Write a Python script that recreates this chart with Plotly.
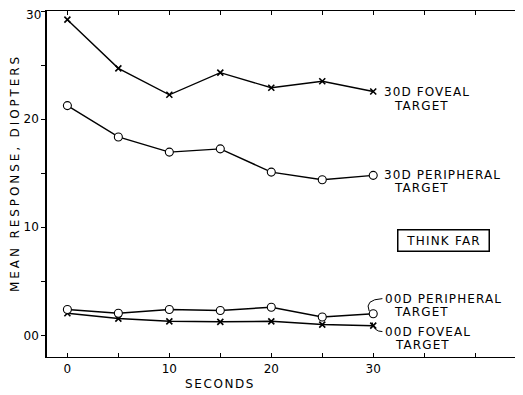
import plotly.graph_objects as go

# ---- data ----
seconds = [0, 5, 10, 15, 20, 25, 30]
foveal_30d = [29.2, 24.7, 22.25, 24.3, 22.9, 23.5, 22.55]
peripheral_30d = [21.25, 18.35, 16.95, 17.25, 15.1, 14.4, 14.8]
peripheral_00d = [2.4, 2.05, 2.4, 2.3, 2.6, 1.7, 2.0]
foveal_00d = [2.05, 1.55, 1.3, 1.25, 1.3, 1.0, 0.9]

x_tickvals = [0, 5, 10, 15, 20, 25, 30, 35, 40]
x_ticktext = ["0", "", "10", "", "20", "", "30", "", ""]
y_tickvals = [0, 5, 10, 15, 20, 25, 30]
y_ticktext = ["00", "", "10", "", "20", "", ""]
y_top_label = "30"

FONT = "DejaVu Sans"


def spaced(t, ls):
    return f'<span style="letter-spacing:{ls}px">{t}</span>'


fig = go.Figure()

x_marker = dict(symbol="x-thin", size=6, line=dict(color="black", width=1.6), color="black")
o_marker = dict(symbol="circle", size=8, color="white", line=dict(color="black", width=1.1))

fig.add_trace(go.Scatter(x=seconds, y=foveal_30d, mode="lines+markers",
                         line=dict(color="black", width=1.4), marker=x_marker))
fig.add_trace(go.Scatter(x=seconds, y=peripheral_30d, mode="lines+markers",
                         line=dict(color="black", width=1.4), marker=o_marker))
fig.add_trace(go.Scatter(x=seconds, y=foveal_00d, mode="lines+markers",
                         line=dict(color="black", width=1.5), marker=x_marker))
fig.add_trace(go.Scatter(x=seconds, y=peripheral_00d, mode="lines+markers",
                         line=dict(color="black", width=1.5), marker=o_marker))

ann = []


def label(y, l1, dy1, dy2, dx1=9, dx2=19):
    ann.append(dict(x=seconds[-1], y=y, xref="x", yref="y", text=spaced(l1, 1.1),
                    showarrow=False, xanchor="left", yanchor="middle",
                    xshift=dx1, yshift=dy1, font=dict(family=FONT, size=12, color="black")))
    ann.append(dict(x=seconds[-1], y=y, xref="x", yref="y", text=spaced("TARGET", 1.1),
                    showarrow=False, xanchor="left", yanchor="middle",
                    xshift=dx2, yshift=dy2, font=dict(family=FONT, size=12, color="black")))


label(foveal_30d[-1], "30D FOVEAL", 0, -14)
label(peripheral_30d[-1], "30D PERIPHERAL", 0, -13)
label(peripheral_00d[-1], "00D PERIPHERAL", 15, 2, dx1=10, dx2=19)
label(foveal_00d[-1], "00D FOVEAL", -6, -19, dx1=10, dx2=20)

ann.append(dict(x=36.9, y=8.8, xref="x", yref="y", text=spaced("THINK FAR", 1.2),
                showarrow=False, width=84, height=14, borderpad=3,
                bordercolor="black", borderwidth=1.5, bgcolor="white",
                font=dict(family=FONT, size=12, color="black")))

ann.append(dict(x=-0.068, y=0.532, xref="paper", yref="paper",
                text=spaced("MEAN RESPONSE, DIOPTERS", 2.9), textangle=-90,
                showarrow=False, xanchor="center", yanchor="middle",
                font=dict(family=FONT, size=12, color="black")))
ann.append(dict(x=0.367, y=-0.078, xref="paper", yref="paper",
                text=spaced("SECONDS", 1.6),
                showarrow=False, xanchor="center", yanchor="middle",
                font=dict(family=FONT, size=12, color="black")))
# top y tick label (the axis would hide it at the very edge of the figure)
ann.append(dict(x=0, y=y_tickvals[-1], xref="paper", yref="y", text=y_top_label,
                showarrow=False, xanchor="right", yanchor="middle", borderpad=0,
                xshift=-5, yshift=-4, font=dict(family=FONT, size=12, color="black")))

xl = seconds[-1]
p = peripheral_00d[-1]
f = foveal_00d[-1]
shapes = [
    dict(type="path", xref="x", yref="y",
         path=f"M {xl + 0.9},{p + 1.4} Q {xl - 0.9},{p + 1.3} {xl - 0.4},{p + 0.25}",
         line=dict(color="black", width=1)),
    dict(type="path", xref="x", yref="y",
         path=f"M {xl - 0.1},{f + 0.3} Q {xl + 0.05},{f - 0.55} {xl + 0.9},{f - 0.55}",
         line=dict(color="black", width=1)),
    dict(type="line", xref="paper", yref="paper", x0=1, x1=1, y0=0, y1=1,
         line=dict(color="#c8c8c8", width=1)),
]

# The page adds an 8px body margin, so the figure is shrunk and margins offset by 8px
fig.update_layout(
    width=515, height=387,
    margin=dict(l=39, r=5, t=3, b=38),
    paper_bgcolor="white", plot_bgcolor="white",
    showlegend=False,
    annotations=ann, shapes=shapes,
    font=dict(family=FONT, size=12, color="black"),
    xaxis=dict(range=[-2, 44.2], showline=True, linecolor="black", linewidth=1.3,
               mirror="ticks", ticks="inside", ticklen=4, tickcolor="black",
               tickvals=x_tickvals, ticktext=x_ticktext, showgrid=False, zeroline=False,
               tickfont=dict(family=FONT, size=12, color="black")),
    yaxis=dict(range=[-2, 30], showline=True, linecolor="black", linewidth=1.5,
               ticks="outside", ticklen=4, tickcolor="black",
               tickvals=y_tickvals, ticktext=y_ticktext, showgrid=False, zeroline=False,
               tickfont=dict(family=FONT, size=12, color="black")),
)

fig.write_html("out.html")
